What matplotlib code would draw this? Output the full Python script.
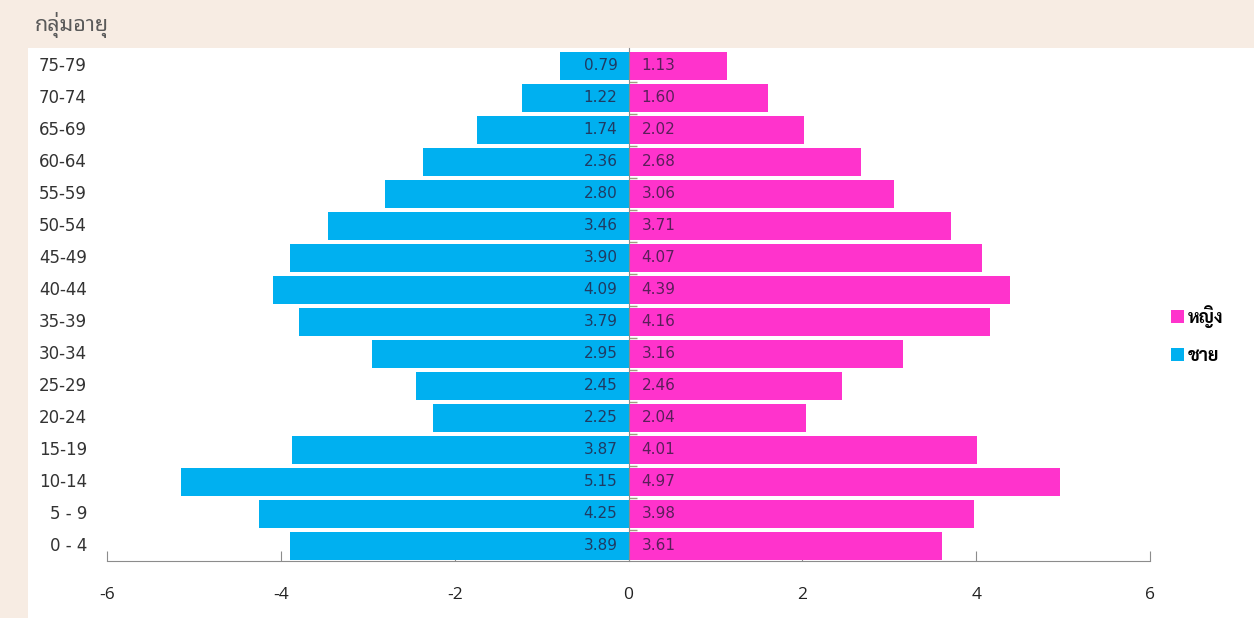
import matplotlib
matplotlib.use("Agg")
import matplotlib.pyplot as plt
from matplotlib import font_manager
from matplotlib.patches import Patch, Rectangle

# ---------------- data ----------------
age_groups = ["0 - 4", "5 - 9", "10-14", "15-19", "20-24", "25-29", "30-34", "35-39",
              "40-44", "45-49", "50-54", "55-59", "60-64", "65-69", "70-74", "75-79"]
male = [3.89, 4.25, 5.15, 3.87, 2.25, 2.45, 2.95, 3.79,
        4.09, 3.90, 3.46, 2.80, 2.36, 1.74, 1.22, 0.79]
female = [3.61, 3.98, 4.97, 4.01, 2.04, 2.46, 3.16, 4.16,
          4.39, 4.07, 3.71, 3.06, 2.68, 2.02, 1.60, 1.13]
x_ticks = [-6, -4, -2, 0, 2, 4, 6]
title_text = "กลุ่มอายุ"
label_female = "หญิง"
label_male = "ชาย"

# ---------------- fonts ----------------
available = {f.name for f in font_manager.fontManager.ttflist}
def pick(prefs, fallback="DejaVu Sans"):
    for p in prefs:
        if p in available:
            return p
    return fallback

thai_font = pick(["Sarabun", "Noto Sans Thai", "Anuphan", "IBM Plex Sans Thai", "Prompt", "Kanit", "Athiti"])
thai_looped = pick(["Noto Sans Thai Looped", "Sarabun", "Noto Serif Thai", "Chakra Petch"], thai_font)
ui_font = pick(["Open Sans", "Noto Sans", "DejaVu Sans"])
num_font = "DejaVu Sans"

BLUE = "#00B0F0"
PINK = "#FF33CC"
BG = "#F7ECE3"
GRID = "#8C8C8C"

W, H = 1254, 618
fig = plt.figure(figsize=(W / 100, H / 100), dpi=100)
fig.patch.set_facecolor(BG)

# white panel
fig.patches.append(Rectangle((28 / W, 0), 1 - 28 / W, 1 - 48 / H, transform=fig.transFigure,
                             facecolor="white", edgecolor="none", zorder=-5))

fig.text(35 / W, 1 - 25 / H, title_text, family=[thai_looped, "DejaVu Sans"], fontsize=15.5,
         color="#5a5a5a", va="center", ha="left")

ax = fig.add_axes([107 / W, 1 - 561 / H, (1150 - 107) / W, (561 - 48) / H])
ax.set_facecolor("none")
ax.set_zorder(2)

y = list(range(len(age_groups)))
ax.barh(y, [-m for m in male], height=0.9, color=BLUE, zorder=2)
ax.barh(y, female, height=0.9, color=PINK, zorder=2)

ax.set_xlim(-6, 6)
ax.set_ylim(-0.47, 15.56)

for sp in ["top", "right"]:
    ax.spines[sp].set_visible(False)
ax.spines["left"].set_position(("data", 0))
ax.spines["left"].set_color(GRID)
ax.spines["left"].set_zorder(3)
ax.spines["bottom"].set_color(GRID)
ax.spines["bottom"].set_bounds(-6, 6)

ax.set_yticks([i + 0.5 for i in range(len(age_groups) - 1)])
ax.set_yticklabels([])
ax.tick_params(axis="y", direction="in", length=6, color="#a09a80", width=1)

ax.set_xticks(x_ticks)
ax.set_xticklabels([str(t) for t in x_ticks], family=ui_font, fontsize=12.5, color="#222222")
ax.tick_params(axis="x", direction="in", length=7, color=GRID, pad=19)

# category labels
for i, lab in enumerate(age_groups):
    ax.annotate(lab, xy=(0, i), xycoords=("axes fraction", "data"), xytext=(-20, 0),
                textcoords="offset pixels", ha="right", va="center",
                family=num_font, fontsize=12, color="#333333", annotation_clip=False)

# value labels
for i, (m, f) in enumerate(zip(male, female)):
    ax.annotate(f"{m:.2f}", xy=(0, i), xytext=(-11, 0), textcoords="offset pixels",
                ha="right", va="center", family=num_font, fontsize=11, color="#1f3b63", zorder=4)
    ax.annotate(f"{f:.2f}", xy=(0, i), xytext=(13, 0), textcoords="offset pixels",
                ha="left", va="center", family=num_font, fontsize=11, color="#5a1e5a", zorder=4)

handles = [Patch(facecolor=PINK, edgecolor="none"), Patch(facecolor=BLUE, edgecolor="none")]
fig.legend(handles, [label_female, label_male], loc="center left",
           bbox_to_anchor=(1155 / W, 1 - 335 / H), frameon=False,
           prop={"family": [thai_font, "DejaVu Sans"], "size": 13, "weight": "bold"},
           handlelength=0.7, handleheight=0.7, handletextpad=0.2, labelspacing=1.1)

fig.savefig("out.png", dpi=100, facecolor=BG)
